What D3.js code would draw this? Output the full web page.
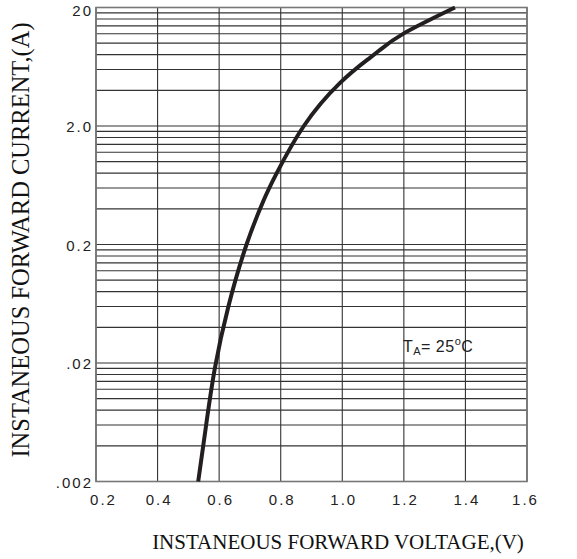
<!DOCTYPE html>
<html><head><meta charset="utf-8">
<script src="https://cdn.jsdelivr.net/npm/d3@7"></script>
<style>body{margin:0;background:#fff}svg{display:block}</style>
</head><body>
<svg id="c" width="577" height="559"></svg>
<script>
// data
const voltage = [0.532, 0.557, 0.586, 0.630, 0.689, 0.745, 0.787, 0.875, 0.992, 1.083, 1.122, 1.200, 1.366];
const current = [0.002, 0.0058, 0.018, 0.06, 0.2, 0.475, 0.80, 2.0, 4.6, 7.3, 8.75, 12.1, 20];
const xTicks = [0.2, 0.4, 0.6, 0.8, 1.0, 1.2, 1.4, 1.6];
const xTickLabels = ["0.2", "0.4", "0.6", "0.8", "1.0", "1.2", "1.4", "1.6"];
const yTicks = [0.002, 0.02, 0.2, 2, 20];
const yTickLabels = [".002", ".02", "0.2", "2.0", "20"];
const xTitle = "INSTANEOUS FORWARD VOLTAGE,(V)";
const yTitle = "INSTANEOUS FORWARD CURRENT,(A)";

const svg = d3.select("#c");
const L = 96, R = 527, T = 7.5, B = 481.5;
const x = d3.scaleLinear().domain([0.2, 1.6]).range([L, R]);
const y = d3.scaleLog().domain([0.002, 20]).range([B, T]);

// horizontal grid: multiples of each decade base
const hGrid = [];
yTicks.slice(0, -1).forEach(d => { for (let k = 1; k <= 9; k++) hGrid.push(d * k); });
hGrid.push(20);

const g = svg.append("g");
g.selectAll("line.h").data(hGrid).join("line")
  .attr("x1", L).attr("x2", R).attr("y1", d => y(d)).attr("y2", d => y(d))
  .attr("stroke", "#333").attr("stroke-width", 1.1);
g.selectAll("line.v").data(xTicks).join("line")
  .attr("y1", T).attr("y2", B).attr("x1", d => x(d)).attr("x2", d => x(d))
  .attr("stroke", "#333").attr("stroke-width", 1.1);
g.append("rect").attr("x", L).attr("y", T).attr("width", R - L).attr("height", B - T)
  .attr("fill", "none").attr("stroke", "#777").attr("stroke-width", 1.6);

const sans = "Liberation Sans, Arial, sans-serif";
const serif = "Liberation Serif, Times New Roman, serif";

// axes
const xAxis = d3.axisBottom(x).tickValues(xTicks).tickSize(0).tickPadding(13)
  .tickFormat((d, i) => xTickLabels[i]);
const xa = svg.append("g").attr("transform", `translate(0,${B})`).call(xAxis);
xa.select(".domain").remove();
xa.selectAll("text").attr("font-family", sans)
  .attr("font-size", 15).attr("fill", "#222").style("letter-spacing", "2px")
  .attr("dx", (d, i) => i === 0 ? 7 : (i === xTicks.length - 1 ? -2 : 1));

const yAxis = d3.axisLeft(y).tickValues(yTicks).tickSize(0).tickPadding(3)
  .tickFormat((d, i) => yTickLabels[i]);
const ya = svg.append("g").attr("transform", `translate(${L},0)`).call(yAxis);
ya.select(".domain").remove();
ya.selectAll("text").attr("font-family", sans)
  .attr("font-size", 15).attr("fill", "#222").style("letter-spacing", "2px")
  .attr("dy", (d, i) => i === yTicks.length - 1 ? "0.55em" : "0.38em");

// curve
const pts = voltage.map((v, i) => [v, current[i]]);
svg.append("path").datum(pts)
  .attr("d", d3.line().x(d => x(d[0])).y(d => y(d[1])).curve(d3.curveNatural))
  .attr("fill", "none").attr("stroke", "#231f20").attr("stroke-width", 4);

// annotation
const ann = svg.append("text").attr("x", x(1.197)).attr("y", y(0.0249))
  .attr("font-family", sans).attr("font-size", 16).attr("fill", "#222")
  .style("letter-spacing", "0.5px");
ann.append("tspan").text("T");
ann.append("tspan").attr("font-size", 11).attr("dy", 3).text("A");
ann.append("tspan").attr("dy", -3).text("= 25");
ann.append("tspan").attr("font-size", 11).attr("dy", -7).text("o");
ann.append("tspan").attr("dy", 7).text("C");

// titles
svg.append("text").attr("x", 338).attr("y", 549).attr("text-anchor", "middle")
  .attr("font-family", serif).attr("font-size", 21)
  .attr("fill", "#111").text(xTitle);
svg.append("text").attr("transform", `translate(29,240) rotate(-90)`).attr("text-anchor", "middle")
  .attr("font-family", serif).attr("font-size", 24.5)
  .attr("fill", "#111").text(yTitle);
</script>
</body></html>
